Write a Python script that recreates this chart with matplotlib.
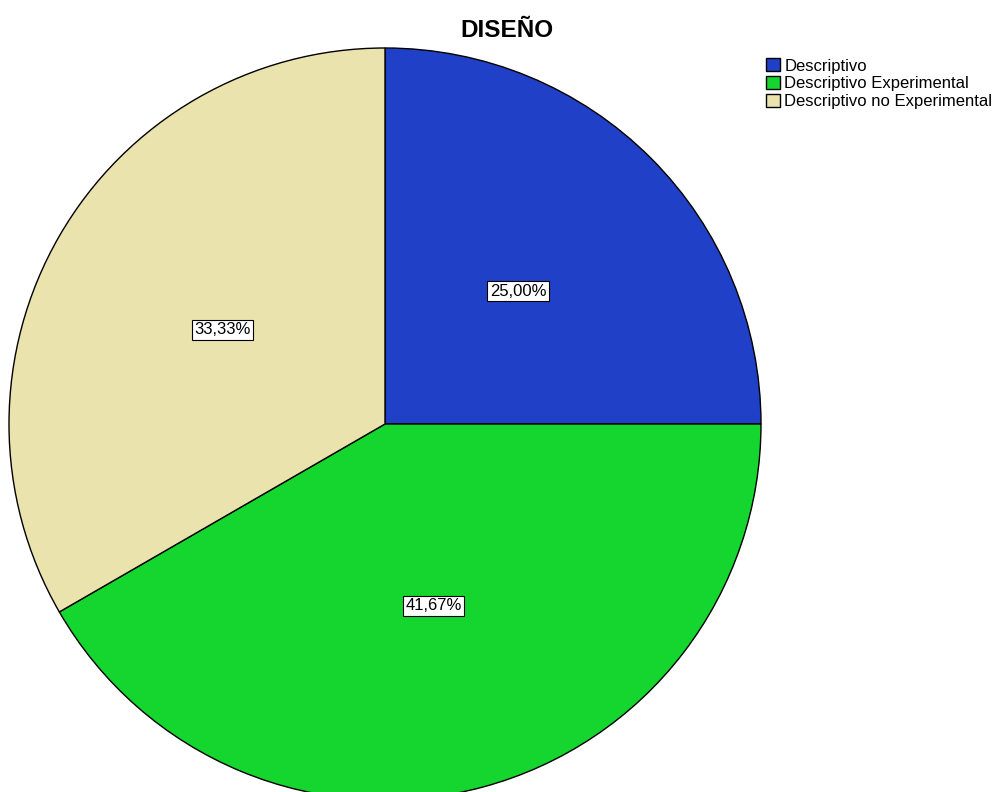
import matplotlib.pyplot as plt

plt.rcParams['font.family'] = ['Liberation Sans', 'DejaVu Sans']

categorias = ['Descriptivo', 'Descriptivo Experimental', 'Descriptivo no Experimental']
porcentajes = [25.00, 41.67, 33.33]
colores = ['#2140C8', '#15D62E', '#EBE3AE']

fig = plt.figure(figsize=(10.03, 7.92), dpi=100)
ax = fig.add_axes([0, 0, 1, 1])

# pie center and radius in pixels
cx, cy, r = 385, 424, 376
W, H = 1003, 792

wedges, texts, autotexts = ax.pie(
    porcentajes, colors=colores, startangle=90, counterclock=False,
    radius=1, center=(0, 0), pctdistance=0.5,
    autopct=lambda p: f'{p:.2f}%'.replace('.', ','),
    wedgeprops=dict(edgecolor='black', linewidth=1),
    textprops=dict(fontsize=12),
    frame=True)

for t in autotexts:
    t.set_bbox(dict(facecolor='white', edgecolor='black', boxstyle='square,pad=0.15', linewidth=0.8))

ax.set_xlim(-cx / r, (W - cx) / r)
ax.set_ylim(-(H - cy) / r, cy / r)
ax.set_aspect('equal')
ax.axis('off')

fig.text(0.505, 0.961, 'DISEÑO', ha='center', va='center', fontsize=17.5, fontweight='bold')

leg = fig.legend(wedges, categorias, loc='upper left', bbox_to_anchor=(0.757, 0.935),
                 frameon=False, fontsize=12, handlelength=0.85, handleheight=0.85,
                 handletextpad=0.25, labelspacing=0.15, borderaxespad=0)
for h in leg.legend_handles:
    h.set_edgecolor('black')
    h.set_linewidth(1)

fig.savefig('out.png', dpi=100)
